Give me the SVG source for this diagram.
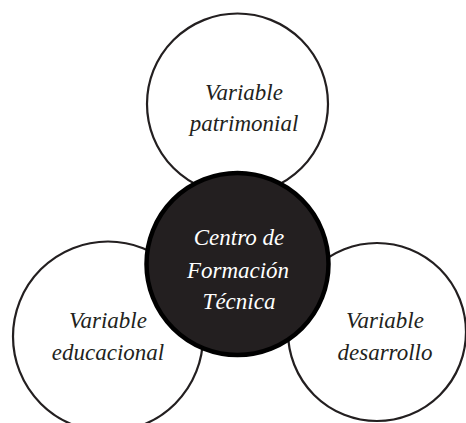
<svg xmlns="http://www.w3.org/2000/svg" width="466" height="423" viewBox="0 0 466 423">
<style>
.outer{fill:#ffffff;stroke:#231f20;stroke-width:2.2}
.core{fill:#231f20;stroke:#000000;stroke-width:4.5}
.t{font-family:"Liberation Serif","DejaVu Serif",serif;font-style:italic;font-size:23px;text-anchor:middle;fill:#231f20}
.tw{fill:#ffffff}
</style>
<rect width="466" height="423" fill="#ffffff"/>
<g id="connectors"></g>
<g id="node-patrimonial">
<circle class="outer" cx="237.5" cy="104" r="90.5"/>
<text class="t" x="244" y="100">Variable</text>
<text class="t" x="244" y="131">patrimonial</text>
</g>
<g id="node-educacional">
<circle class="outer" cx="108" cy="336.5" r="95"/>
<text class="t" x="108" y="328">Variable</text>
<text class="t" x="108" y="360">educacional</text>
</g>
<g id="node-desarrollo">
<circle class="outer" cx="377" cy="332" r="89"/>
<text class="t" x="385" y="328">Variable</text>
<text class="t" x="385" y="360">desarrollo</text>
</g>
<g id="node-centro">
<circle class="core" cx="237.5" cy="264" r="91"/>
<text class="t tw" x="239" y="245">Centro de</text>
<text class="t tw" x="238" y="278">Formación</text>
<text class="t tw" x="239" y="309">Técnica</text>
</g>
</svg>
